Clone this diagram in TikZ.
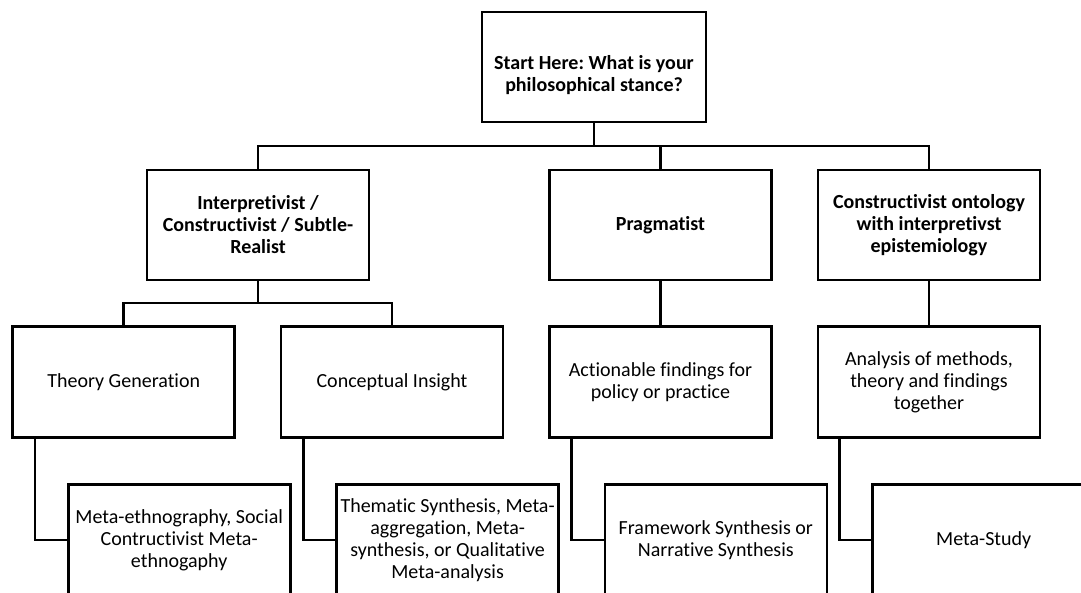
\documentclass[tikz,border=0pt]{standalone}
\usepackage{fontspec}
\setmainfont{Carlito}[Ligatures={NoCommon,NoRequired,NoContextual}]
\frenchspacing
\begin{document}
\begin{tikzpicture}[x=1pt,y=-1pt,
  box/.style={draw=black, line width=2.6pt, minimum width=222pt, minimum height=111pt, inner sep=0pt, align=center, font=\fontsize{20}{22}\selectfont\frenchspacing},
  bbox/.style={box, font=\fontsize{20}{22}\selectfont\bfseries\frenchspacing},
  btext/.style={inner sep=0pt, align=center, font=\fontsize{20}{22}\selectfont\bfseries\frenchspacing},
  conn/.style={draw=black, line width=2.6pt}]
\clip (0,0) rectangle (1081,592);
\fill[white] (0,0) rectangle (1081,592);
% top
\node[box, minimum width=224pt, minimum height=110pt] (top) at (594,67) {};
\node[btext] (toptext) at (594,75) {Start Here: What is your\\philosophical stance?};
% level 1
\node[bbox, minimum height=110pt] (interp) at (258,225) {Interpretivist /\\Constructivist / Subtle-\\Realist};
\node[bbox, minimum height=110pt] (prag) at (660.5,225) {Pragmatist};
\node[bbox, minimum height=110pt] (constr) at (929,225) {Constructivist ontology\\with interpretivst\\epistemiology};
% level 2
\node[box] (theory) at (123.7,382) {Theory Generation};
\node[box] (concept) at (392,382) {Conceptual Insight};
\node[box] (action) at (660.5,382) {Actionable findings for\\policy or practice};
\node[box] (analysis) at (929,382) {Analysis of methods,\\theory and findings\\together};
% level 3
\node[box] (meta1) at (179.2,540) {Meta-ethnography, Social\\Contructivist Meta-\\ethnogaphy};
\node[box] (meta2) at (447.6,540) {Thematic Synthesis, Meta-\\aggregation, Meta-\\synthesis, or Qualitative\\Meta-analysis};
\node[box] (meta3) at (715.8,540) {Framework Synthesis or\\Narrative Synthesis};
\node[box] (meta4) at (983.7,540) {Meta-Study};
% buses
\coordinate (bus1) at (0,146);
\coordinate (bus2) at (0,303);
\draw[conn] (top.south) -- (top.south |- bus1);
\draw[conn] (interp.north) -- (interp.north |- bus1) -- (constr.north |- bus1) -- (constr.north);
\draw[conn] (prag.north) -- (prag.north |- bus1);
\draw[conn] (interp.south) -- (interp.south |- bus2);
\draw[conn] (theory.north) -- (theory.north |- bus2) -- (concept.north |- bus2) -- (concept.north);
\draw[conn] (prag.south) -- (action.north);
\draw[conn] (constr.south) -- (analysis.north);
% elbows
\draw[conn] ([xshift=-88.7pt]theory.south) |- (meta1.west);
\draw[conn] ([xshift=-88.7pt]concept.south) |- (meta2.west);
\draw[conn] ([xshift=-89pt]action.south) |- (meta3.west);
\draw[conn] ([xshift=-89.5pt]analysis.south) |- (meta4.west);
\end{tikzpicture}
\end{document}
